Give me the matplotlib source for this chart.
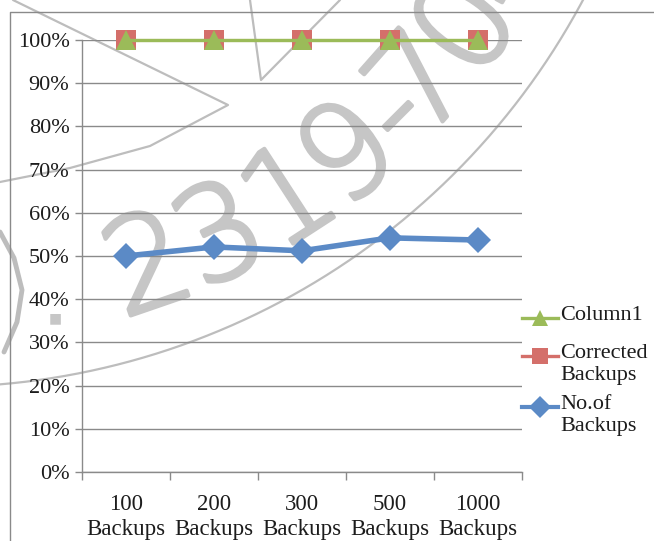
import numpy as np
import matplotlib
matplotlib.use("Agg")
import matplotlib.pyplot as plt
import matplotlib.patheffects as pe
from matplotlib.lines import Line2D

# --- data -------------------------------------------------------------
categories = ["100\nBackups", "200\nBackups", "300\nBackups", "500\nBackups", "1000\nBackups"]
no_of_backups = [0.500, 0.521, 0.512, 0.542, 0.537]
corrected_backups = [1.0, 1.0, 1.0, 1.0, 1.0]
column1 = [1.0, 1.0, 1.0, 1.0, 1.0]
y_ticks = [i / 10 for i in range(11)]
y_tick_labels = [f"{i * 10}%" for i in range(11)]

series_names = ["Column1", "Corrected\nBackups", "No.of\nBackups"]

W, H = 654, 541
plt.rcParams["font.family"] = ["Liberation Serif", "DejaVu Serif"]
TXT = "#1c1c1c"
GRID = "#8a8a8a"
GREEN = "#9BBB59"
RED = "#D46F6A"
BLUE = "#5B8AC6"

fig = plt.figure(figsize=(W / 100, H / 100), dpi=100)
fig.patch.set_facecolor("white")


def px(x, y):
    """pixel position (from top-left) -> figure fraction"""
    return x / W, 1 - y / H


# plot area
left, right, top, bottom = 82, 522, 40, 472
ax = fig.add_axes([left / W, 1 - bottom / H, (right - left) / W, (bottom - top) / H])
ax.set_facecolor("none")

x = np.arange(len(categories))
ax.plot(x, no_of_backups, color=BLUE, lw=4, marker="D", ms=13,
        markeredgewidth=0, zorder=3, solid_joinstyle="round", clip_on=False)
ax.plot(x, corrected_backups, color=RED, lw=2.2, marker="s", ms=14.5,
        markeredgewidth=0, zorder=3, clip_on=False)
ax.plot(x, column1, color=GREEN, lw=2.4, marker="^", ms=14,
        markeredgewidth=0, zorder=4, clip_on=False)

ax.set_xlim(-0.5, len(categories) - 0.5)
ax.set_ylim(0, 1.0)
ax.set_yticks(y_ticks)
ax.set_yticklabels(y_tick_labels, color=TXT, fontsize=16)
ax.set_xticks(x)
ax.set_xticklabels(categories, color=TXT, fontsize=16.5, linespacing=1.22)
ax.set_xticks(np.arange(-0.5, len(categories)), minor=True)
ax.tick_params(axis="x", which="major", length=0, pad=16)
ax.tick_params(axis="x", which="minor", length=6, width=1, color=GRID, direction="out")
ax.tick_params(axis="y", length=5, width=1, color=GRID, pad=4)
ax.grid(axis="y", color=GRID, lw=1)
ax.set_axisbelow(True)
for s in ["top", "right"]:
    ax.spines[s].set_visible(False)
for s in ["left", "bottom"]:
    ax.spines[s].set_color(GRID)
    ax.spines[s].set_linewidth(1)

# chart-area frame
fig.add_artist(Line2D([10 / W, 10 / W, 1], [0, 1 - 12 / H, 1 - 12 / H],
                      transform=fig.transFigure, color=GRID, lw=1))

# --- legend (right side) ---------------------------------------------
legend_rows = [
    (series_names[0], GREEN, "^", 12, 318),
    (series_names[1], RED, "s", 12, 356),
    (series_names[2], BLUE, "D", 11, 407),
]
for label, col, mk, ms, yy in legend_rows:
    x0, y0 = px(522, yy)
    x1, _ = px(558, yy)
    xm, _ = px(540, yy)
    fig.add_artist(Line2D([x0, x1], [y0, y0], transform=fig.transFigure,
                          color=col, lw=3 if col == BLUE else 2.4))
    fig.add_artist(Line2D([xm], [y0], transform=fig.transFigure, color=col,
                          marker=mk, ms=ms, markeredgewidth=0, lw=0))
    tx, ty = px(560, yy - 12)
    fig.text(tx, ty, label, ha="left", va="top", fontsize=16, color=TXT,
             linespacing=1.18)

# --- faint stamp in the background (drawn behind the axes) --------------
WM = "#c6c6c6"
cx, cy = -62, -344

# outer ring
t = np.linspace(np.radians(0), np.radians(70), 400)
R = 731
rx = cx + R * np.sin(t)
ry = cy + R * np.cos(t)
fig.add_artist(Line2D(rx / W, 1 - ry / H, transform=fig.transFigure,
                      color="#bdbdbd", lw=1.6, zorder=-1))

# ring text
stamp_chars = ["2", "3", "1", "9", "-", "7", "0", "4", "6"]
stamp_angles = [19, 26, 33, 39.5, 45, 48.5, 55, 61.5, 68]
r_txt = 650
for ch, ang in zip(stamp_chars, stamp_angles):
    a = np.radians(ang)
    xx = cx + r_txt * np.sin(a)
    yy = cy + r_txt * np.cos(a)
    fig.text(xx / W, 1 - yy / H, ch, rotation=ang, rotation_mode="anchor",
             ha="center", va="center", fontsize=94, color=WM,
             family="DejaVu Sans", fontweight="light", zorder=-1,
             path_effects=[pe.withStroke(linewidth=3, foreground=WM)])

# decorative strokes of the stamp
strokes = [
    ([(13, 0), (228, 105), (150, 146), (70, 168), (0, 182)], 1.6),
    ([(250, 0), (261, 80), (340, 0)], 1.6),
    ([(0, 232), (14, 258), (22, 290), (17, 322), (4, 352)], 3.5),
]
for pts, lw in strokes:
    sx = np.array([p[0] for p in pts]) / W
    sy = 1 - np.array([p[1] for p in pts]) / H
    fig.add_artist(Line2D(sx, sy, transform=fig.transFigure, color="#bdbdbd",
                          lw=lw, zorder=-1, solid_capstyle="round"))
fig.text(55 / W, 1 - 318 / H, "■", ha="center", va="center", fontsize=10,
         color=WM, family="DejaVu Sans", zorder=-1)

fig.savefig("out.png", dpi=100)
